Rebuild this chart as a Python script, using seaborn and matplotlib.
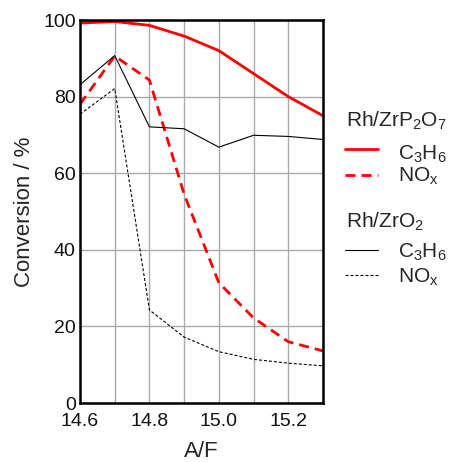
import matplotlib
matplotlib.use("Agg")
import matplotlib.pyplot as plt
from matplotlib.lines import Line2D
import seaborn as sns
import pandas as pd

af = [14.6, 14.7, 14.8, 14.9, 15.0, 15.1, 15.2, 15.3]
zrp_c3h6 = [99.2, 99.6, 98.6, 95.8, 92.0, 86.0, 80.0, 75.0]
zrp_nox = [78.0, 90.6, 84.3, 54.5, 31.4, 22.2, 16.0, 13.6]
zro_c3h6 = [83.1, 90.7, 72.1, 71.6, 66.8, 69.9, 69.6, 68.8]
zro_nox = [75.4, 82.1, 24.3, 17.2, 13.4, 11.4, 10.4, 9.7]
legend_titles = ["Rh/ZrP$_2$O$_7$", "Rh/ZrO$_2$"]
legend_labels = ["C$_3$H$_6$", "NO$_x$"]

sns.set_theme(style="white")
plt.rcParams['font.family'] = ['Liberation Sans', 'DejaVu Sans']
plt.rcParams['mathtext.fontset'] = 'custom'
plt.rcParams['mathtext.rm'] = 'Liberation Sans'
plt.rcParams['mathtext.it'] = 'Liberation Sans'

W, H = 449, 462
fig = plt.figure(figsize=(W / 100, H / 100), dpi=100)
ax = fig.add_axes([80/W, 1-403/H, 243/W, 383/H])

red_dash = (0, (3.6, 2.2))
blk_dash = (0, (2.7, 1.8))
series = [
    (zrp_c3h6, "#ff0000", "-", 2.0),
    (zrp_nox, "#ff0000", red_dash, 2.0),
    (zro_c3h6, "#000000", "-", 0.8),
    (zro_nox, "#000000", blk_dash, 0.8),
]
for vals, col, ls, lw in series:
    df = pd.DataFrame({"af": af, "v": vals})
    sns.lineplot(data=df, x="af", y="v", ax=ax, color=col, linestyle=ls, linewidth=lw)

ax.set_xlim(14.6, 15.3)
ax.set_ylim(0, 100)
ax.set_xticks(af, minor=True)
ax.set_xticks([14.6, 14.8, 15.0, 15.2])
ax.set_xticklabels(["14.6", "14.8", "15.0", "15.2"])
ax.set_yticks([0, 20, 40, 60, 80, 100])
ax.grid(True, which="both", color="#aaaaaa", linewidth=1.0)
ax.set_axisbelow(True)
ax.tick_params(axis="both", which="both", length=0, labelsize=14, colors="#111111")
ax.tick_params(axis="x", pad=7)
ax.tick_params(axis="y", pad=3)
for s in ax.spines.values():
    s.set_color("black")
    s.set_linewidth(1.8)
ax.set_xlabel("A/F", fontsize=16, labelpad=8)
ax.set_ylabel("Conversion / %", fontsize=16, labelpad=6)

fs = 15
def fy(py):
    return 1 - py / H

x0, x1, xt = 345/W, 378/W, 398/W
# group 1
fig.text(346/W, fy(127), legend_titles[0], fontsize=fs, va="baseline", ha="left")
fig.add_artist(Line2D([x0, x1], [fy(149), fy(149)], color="#ff0000", lw=2.0, ls="-"))
fig.text(xt, fy(160), legend_labels[0], fontsize=fs, va="baseline", ha="left")
fig.add_artist(Line2D([x0, x1], [fy(175), fy(175)], color="#ff0000", lw=2.0, ls=red_dash))
fig.text(xt, fy(182), legend_labels[1], fontsize=fs, va="baseline", ha="left")
# group 2
fig.text(346/W, fy(228), legend_titles[1], fontsize=fs, va="baseline", ha="left")
fig.add_artist(Line2D([x0, x1], [fy(250), fy(250)], color="#000000", lw=0.8, ls="-"))
fig.text(xt, fy(258), legend_labels[0], fontsize=fs, va="baseline", ha="left")
fig.add_artist(Line2D([x0, x1], [fy(275), fy(275)], color="#000000", lw=0.8, ls=blk_dash))
fig.text(xt, fy(283), legend_labels[1], fontsize=fs, va="baseline", ha="left")

fig.savefig("out.png", dpi=100)
